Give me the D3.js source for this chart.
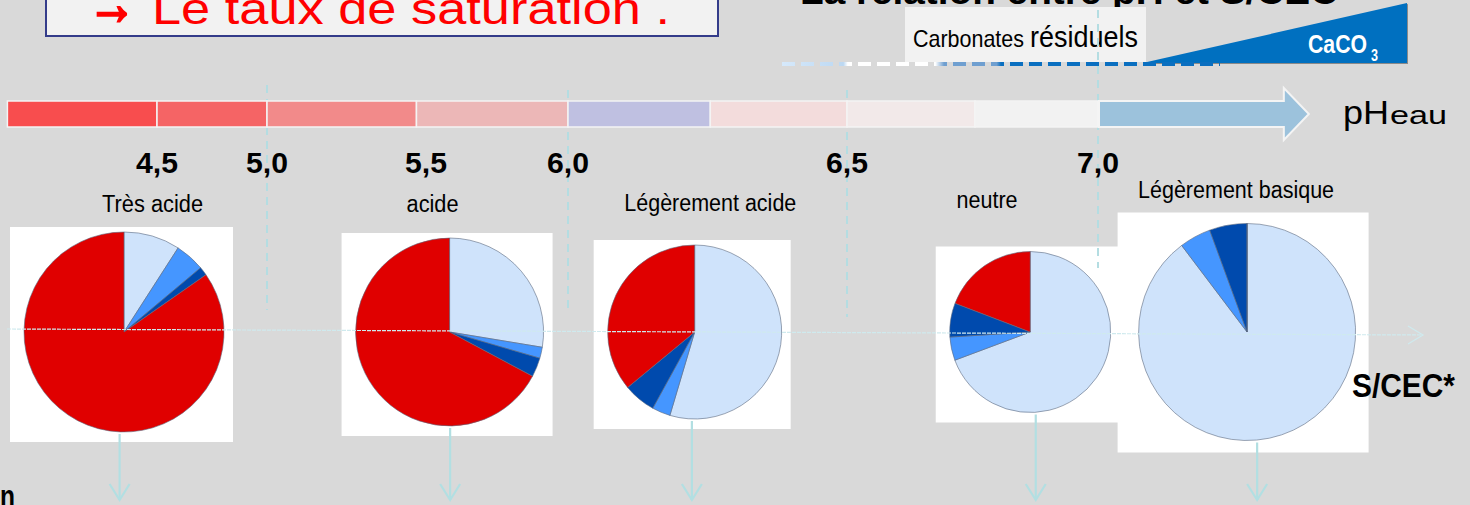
<!DOCTYPE html>
<html>
<head>
<meta charset="utf-8">
<script src="https://cdn.jsdelivr.net/npm/d3@7"></script>
<style>
  html, body { margin: 0; padding: 0; background: #d9d9d9; overflow: hidden; }
  svg { display: block; }
</style>
</head>
<body>
<svg id="chart" width="1470" height="505"></svg>
<script>
// ---- pH scale -------------------------------------------------------------
const phTicks = [4.5, 5.0, 5.5, 6.0, 6.5, 7.0];
const phTickLabels = ["4,5", "5,0", "5,5", "6,0", "6,5", "7,0"];
// colour classes of the pH bar (limits in pH units)
const barBreaks = [3.82, 4.5, 5.0, 5.47, 6.0, 6.255, 6.5, 6.755, 7.0];
const barColors = ["#f84d4e", "#f56465", "#f28a8a", "#ecb7b7", "#bfc0e1", "#f3dcdc", "#f2e9e9", "#f2f2f2"];
const barArrowEnd = 7.42;
const guidePh = [5.0, 6.0, 6.5, 7.0];

// ---- soil classes ---------------------------------------------------------
const classNames = ["Très acide", "acide", "Légèrement acide", "neutre", "Légèrement basique"];
const classLabelPh = [4.48, 5.523, 6.255, 6.779, 7.275];
const classPiePh = [4.35, 5.583, 6.227, 6.865, 7.297];
const classArrowPh = [4.33, 5.585, 6.222, 6.876, 7.317];

// composition of the exchange complex, % of CEC (clockwise from the top)
const seriesNames = ["Ca", "Mg", "K", "H+Al"];
const caShare   = [9.1, 27.6, 54.6, 69.3, 89.7];
const mgShare   = [4.8, 1.9, 3.4, 4.7, 4.7];
const kShare    = [1.4, 3.3, 6.0, 6.8, 5.6];
const acidShare = [84.7, 67.2, 36.0, 19.2, 0.0];
const seriesColors = ["#cfe3fb", "#4596ff", "#004aad", "#e00000"];

// ---- layout ---------------------------------------------------------------
const W = 1470, H = 505;
const barTop = 101, barH = 26;
const pieCy = 332;
const pieRadius = [100, 94, 87, 80.5, 108.5];
const guideSpan = [[85, 310], [90, 310], [90, 317], [10, 268]];
const narrow = "'Liberation Sans Narrow','Arial Narrow','Liberation Sans',Arial,sans-serif";
const sans = "'Liberation Sans',Arial,Helvetica,sans-serif";

const svg = d3.select("#chart");
const x = d3.scaleLinear().domain(phTicks).range([157, 267, 426, 568, 847, 1098]);

function label(g, o) {
  const t = g.append("text")
    .attr("x", o.x).attr("y", o.y)
    .attr("font-family", o.family || narrow)
    .attr("font-size", o.size)
    .attr("font-weight", o.weight || "normal")
    .attr("fill", o.fill || "#000")
    .attr("text-anchor", o.anchor || "start")
    .text(o.text);
  if (o.len) t.attr("textLength", o.len).attr("lengthAdjust", "spacingAndGlyphs");
  return t;
}

svg.append("rect").attr("width", W).attr("height", H).attr("fill", "#d9d9d9");

// ---- headings -------------------------------------------------------------
svg.append("rect")
  .attr("x", 46).attr("y", -10).attr("width", 672).attr("height", 46)
  .attr("fill", "#f2f2f2").attr("stroke", "#343c8a").attr("stroke-width", 2);
const head = svg.append("text").attr("y", 24)
  .attr("font-family", sans).attr("font-size", 44).attr("fill", "#ff0000");
head.append("tspan").attr("x", 88)
  .attr("font-size", 60).attr("font-weight", "bold")
  .attr("stroke", "#ff0000").attr("stroke-width", 2.5)
  .attr("textLength", 48).attr("lengthAdjust", "spacingAndGlyphs")
  .text("→");
head.append("tspan").attr("x", 152)
  .attr("textLength", 518).attr("lengthAdjust", "spacingAndGlyphs")
  .text("Le taux de saturation .");
label(svg, { x: 800, y: 4, text: "La relation entre pH et S/CEC", size: 36, weight: "bold", family: sans, len: 538 });

// ---- residual carbonates --------------------------------------------------
svg.append("rect")
  .attr("x", 905).attr("y", 7).attr("width", 241).attr("height", 55)
  .attr("fill", "#f2f2f2");

const grad = svg.append("defs").append("linearGradient")
  .attr("id", "carbGrad").attr("gradientUnits", "userSpaceOnUse")
  .attr("x1", 782).attr("x2", 1220).attr("y1", 0).attr("y2", 0);
[[0, "#d6e9fb"], [0.14, "#bcd8f2"], [0.15, "#ffffff"], [0.35, "#ffffff"], [0.37, "#6f9fd0"],
 [0.49, "#6f9fd0"], [0.5, "#0a6fc0"], [1, "#0a6fc0"]]
  .forEach(([o, c]) => grad.append("stop").attr("offset", o).attr("stop-color", c));

label(svg, { x: 913, y: 47, text: "Carbonates", size: 24, len: 111 });
label(svg, { x: 1030, y: 47, text: "résiduels", size: 30, len: 108 });

// CaCO3 wedge
const wedge = d3.path();
wedge.moveTo(1147, 62); wedge.lineTo(1407, 3); wedge.lineTo(1407, 63); wedge.lineTo(1147, 63); wedge.closePath();
svg.append("path").attr("d", wedge.toString()).attr("transform", "translate(1,1)").attr("fill", "#8a8a8a");
svg.append("path").attr("d", wedge.toString()).attr("fill", "#0070c0");
const caco = svg.append("text").attr("y", 53)
  .attr("font-family", narrow).attr("font-weight", "bold").attr("fill", "#fff");
caco.append("tspan").attr("x", 1308).attr("font-size", 25)
  .attr("textLength", 59).attr("lengthAdjust", "spacingAndGlyphs").text("CaCO");
caco.append("tspan").attr("x", 1371).attr("dy", 8).attr("font-size", 17)
  .attr("textLength", 7).attr("lengthAdjust", "spacingAndGlyphs").text("3");

svg.append("line")
  .attr("x1", 782).attr("x2", 1220).attr("y1", 64).attr("y2", 64)
  .attr("stroke", "url(#carbGrad)").attr("stroke-width", 4)
  .attr("stroke-dasharray", "13,6");

// ---- pie backgrounds and guide lines -----------------------------------------
const pies = classNames.map((name, i) => ({
  name,
  cx: x(classPiePh[i]),
  ax: x(classArrowPh[i]),
  r: pieRadius[i],
  values: [caShare[i], mgShare[i], kShare[i], acidShare[i]]
}));

svg.selectAll("rect.pieBox").data(pies).join("rect")
  .attr("class", "pieBox")
  .attr("x", d => d.cx - d.r - 14 - (d.r > 105 ? 7 : 0))
  .attr("y", d => pieCy - d.r - 5 - (d.r > 105 ? 6 : 0))
  .attr("width", d => 2 * d.r + 23 + (d.r > 105 ? 11 : 0))
  .attr("height", d => 2 * d.r + 15 + (d.r > 105 ? 8 : 0))
  .attr("fill", "#ffffff");

svg.selectAll("line.guide").data(guidePh).join("line")
  .attr("class", "guide")
  .attr("x1", d => x(d)).attr("x2", d => x(d))
  .attr("y1", (d, i) => guideSpan[i][0]).attr("y2", (d, i) => guideSpan[i][1])
  .attr("stroke", "#b4dde2").attr("stroke-width", 2)
  .attr("stroke-dasharray", "8,6");

// ---- pH bar ---------------------------------------------------------------
const segs = barColors.map((c, i) => ({ x0: x(barBreaks[i]), x1: x(barBreaks[i + 1]), c }));
svg.selectAll("rect.seg").data(segs).join("rect")
  .attr("class", "seg")
  .attr("x", d => d.x0).attr("y", barTop)
  .attr("width", d => d.x1 - d.x0).attr("height", barH)
  .attr("fill", d => d.c)
  .attr("stroke", "#f4f4f4").attr("stroke-width", 1.5);

const ax0 = x(7.0) + 1, tip = x(barArrowEnd), headBase = tip - 25, midY = barTop + barH / 2;
const arrow = d3.path();
arrow.moveTo(ax0, barTop);
arrow.lineTo(headBase, barTop);
arrow.lineTo(headBase, barTop - 13);
arrow.lineTo(tip, midY);
arrow.lineTo(headBase, barTop + barH + 13);
arrow.lineTo(headBase, barTop + barH);
arrow.lineTo(ax0, barTop + barH);
arrow.closePath();
svg.append("path").attr("d", arrow.toString())
  .attr("fill", "#9cc2dc").attr("stroke", "#f4f4f4").attr("stroke-width", 2);

label(svg, { x: 1343, y: 124, text: "pH", size: 34, len: 46 });
label(svg, { x: 1390, y: 124, text: "eau", size: 25, len: 57 });

svg.selectAll("text.tick").data(phTicks).join("text")
  .attr("class", "tick")
  .attr("x", d => x(d)).attr("y", 173)
  .attr("text-anchor", "middle")
  .attr("font-family", sans).attr("font-weight", "bold").attr("font-size", 29)
  .attr("textLength", 42).attr("lengthAdjust", "spacingAndGlyphs")
  .text((d, i) => phTickLabels[i]);

const labelY = [212, 212, 211, 208, 198];
const labelLen = [101, 52, 172, 61, 196];
svg.selectAll("text.cls").data(classNames).join("text")
  .attr("class", "cls")
  .attr("x", (d, i) => x(classLabelPh[i])).attr("y", (d, i) => labelY[i])
  .attr("text-anchor", "middle")
  .attr("font-family", narrow).attr("font-size", 23)
  .attr("textLength", (d, i) => labelLen[i]).attr("lengthAdjust", "spacingAndGlyphs")
  .text(d => d);

// ---- pies -----------------------------------------------------------------
const pie = d3.pie().sort(null).value(d => d);
const arc = d3.arc().innerRadius(0);

const pg = svg.selectAll("g.pie").data(pies).join("g")
  .attr("class", "pie")
  .attr("transform", d => `translate(${d.cx},${pieCy})`);

pg.selectAll("path")
  .data(d => pie(d.values).map(a => Object.assign(a, { r: d.r })))
  .join("path")
  .attr("d", a => arc.outerRadius(a.r)(a))
  .attr("fill", (a, i) => seriesColors[i])
  .attr("stroke", "#5d6a80").attr("stroke-opacity", 0.75).attr("stroke-width", 0.8);

// ---- S/CEC axis -------------------------------------------------------------
const axL = 7, axR = 1423, axYL = 329, axYR = 335;
svg.append("line")
  .attr("x1", axL).attr("y1", axYL).attr("x2", axR).attr("y2", axYR)
  .attr("stroke", "#cfeaee").attr("stroke-width", 1.2)
  .attr("stroke-dasharray", "4,1");
svg.append("path")
  .attr("d", `M${axR - 15},${axYR - 9}L${axR},${axYR}L${axR - 15},${axYR + 9}`)
  .attr("fill", "none").attr("stroke", "#cfeaee").attr("stroke-width", 1.2);

label(svg, { x: 1352, y: 397, text: "S/CEC*", size: 34, weight: "bold", family: sans, len: 103 });

// ---- arrows under each class ----------------------------------------------
const arrowTip = 500;
const dg = svg.selectAll("g.down").data(pies).join("g").attr("class", "down");
dg.append("line")
  .attr("x1", d => d.ax).attr("x2", d => d.ax)
  .attr("y1", d => pieCy + d.r + 2).attr("y2", arrowTip)
  .attr("stroke", "#b2dfe2").attr("stroke-width", 2.2);
dg.append("path")
  .attr("d", d => `M${d.ax - 10},${arrowTip - 16}L${d.ax},${arrowTip}L${d.ax + 10},${arrowTip - 16}`)
  .attr("fill", "none").attr("stroke", "#b2dfe2").attr("stroke-width", 2.2);

label(svg, { x: 0, y: 507, text: "n", size: 32, weight: "bold", family: sans, len: 15 });
</script>
</body>
</html>
